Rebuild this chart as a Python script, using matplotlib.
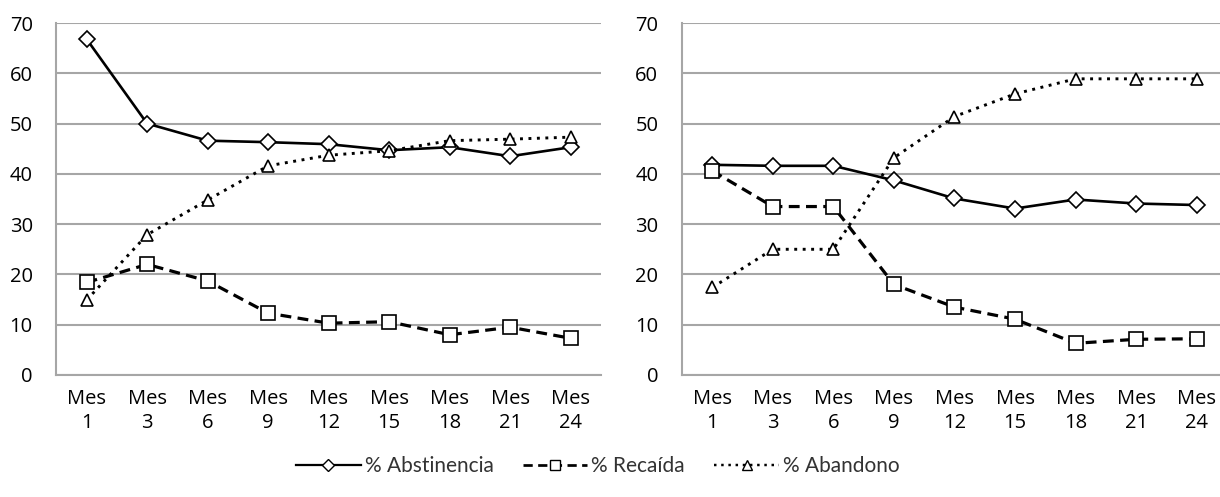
import matplotlib.pyplot as plt
from matplotlib.lines import Line2D

meses = ["1", "3", "6", "9", "12", "15", "18", "21", "24"]
tick_labels = ["Mes\n" + m for m in meses]

# left panel
abst_izq = [66.8, 50.0, 46.6, 46.3, 45.9, 44.7, 45.3, 43.5, 45.3]
reca_izq = [18.4, 22.0, 18.7, 12.3, 10.3, 10.6, 8.0, 9.5, 7.3]
aban_izq = [14.9, 27.9, 34.8, 41.6, 43.7, 44.6, 46.6, 46.9, 47.3]

# right panel
abst_der = [41.8, 41.6, 41.6, 38.7, 35.1, 33.1, 34.9, 34.1, 33.8]
reca_der = [40.6, 33.5, 33.5, 18.0, 13.5, 11.1, 6.3, 7.1, 7.2]
aban_der = [17.4, 25.0, 25.0, 43.2, 51.4, 55.9, 58.9, 58.9, 58.9]

series_names = ["% Abstinencia", "% Recaída", "% Abandono"]

FONT = "Open Sans"
GRID = "#a6a6a6"

styles = [
    dict(ls="-", lw=1.9, marker="D", ms=8, dashes=None),
    dict(ls="--", lw=2.3, marker="s", ms=9.5, dashes=(3.4, 2.0)),
    dict(ls=":", lw=2.1, marker="^", ms=9, dashes=(1.0, 1.9)),
]

fig = plt.figure(figsize=(12.2, 4.97), dpi=100)
ax1 = fig.add_axes([0.0462, 0.2455, 0.4464, 0.7082])
ax2 = fig.add_axes([0.559, 0.2455, 0.4467, 0.7082])


def draw_panel(ax, data):
    x = list(range(len(meses)))
    for vals, st in zip(data, styles):
        line, = ax.plot(x, vals, color="black", lw=st["lw"], ls=st["ls"],
                        marker=st["marker"], ms=st["ms"], mfc="white",
                        mec="black", mew=1.2, clip_on=False, zorder=3)
        if st["dashes"]:
            line.set_dashes(st["dashes"])
    ax.set_xlim(-0.5, len(meses) - 0.5)
    ax.set_ylim(0, 70)
    ax.set_yticks(range(0, 71, 10))
    ax.set_xticks(x)
    ax.set_xticklabels(tick_labels, fontsize=14.5, family=FONT,
                       linespacing=1.3)
    ax.tick_params(axis="both", length=0, labelsize=14.5)
    ax.tick_params(axis="y", pad=17)
    ax.tick_params(axis="x", pad=10)
    for lab in ax.get_yticklabels():
        lab.set_family(FONT)
    ax.grid(axis="y", color=GRID, lw=1.5)
    ax.set_axisbelow(True)
    for side in ["top", "right"]:
        ax.spines[side].set_visible(False)
    ax.spines["left"].set_color(GRID)
    ax.spines["left"].set_linewidth(1.5)
    ax.spines["bottom"].set_color(GRID)
    ax.spines["bottom"].set_linewidth(1.5)


draw_panel(ax1, [abst_izq, reca_izq, aban_izq])
draw_panel(ax2, [abst_der, reca_der, aban_der])

handles = []
for st in styles:
    h = Line2D([], [], color="black", lw=st["lw"] * 0.85, ls=st["ls"],
               marker=st["marker"], ms=st["ms"] * 0.75, mfc="white",
               mec="black", mew=1.0)
    if st["dashes"]:
        h.set_dashes(st["dashes"])
    handles.append(h)

fig.legend(handles, series_names, loc="center", bbox_to_anchor=(0.49, 0.062),
           ncol=3, frameon=False, handlelength=3.1, handletextpad=0.2,
           columnspacing=1.4, prop={"family": "Lato", "size": 15},
           labelcolor="#333333")

fig.savefig("out.png", dpi=100)
